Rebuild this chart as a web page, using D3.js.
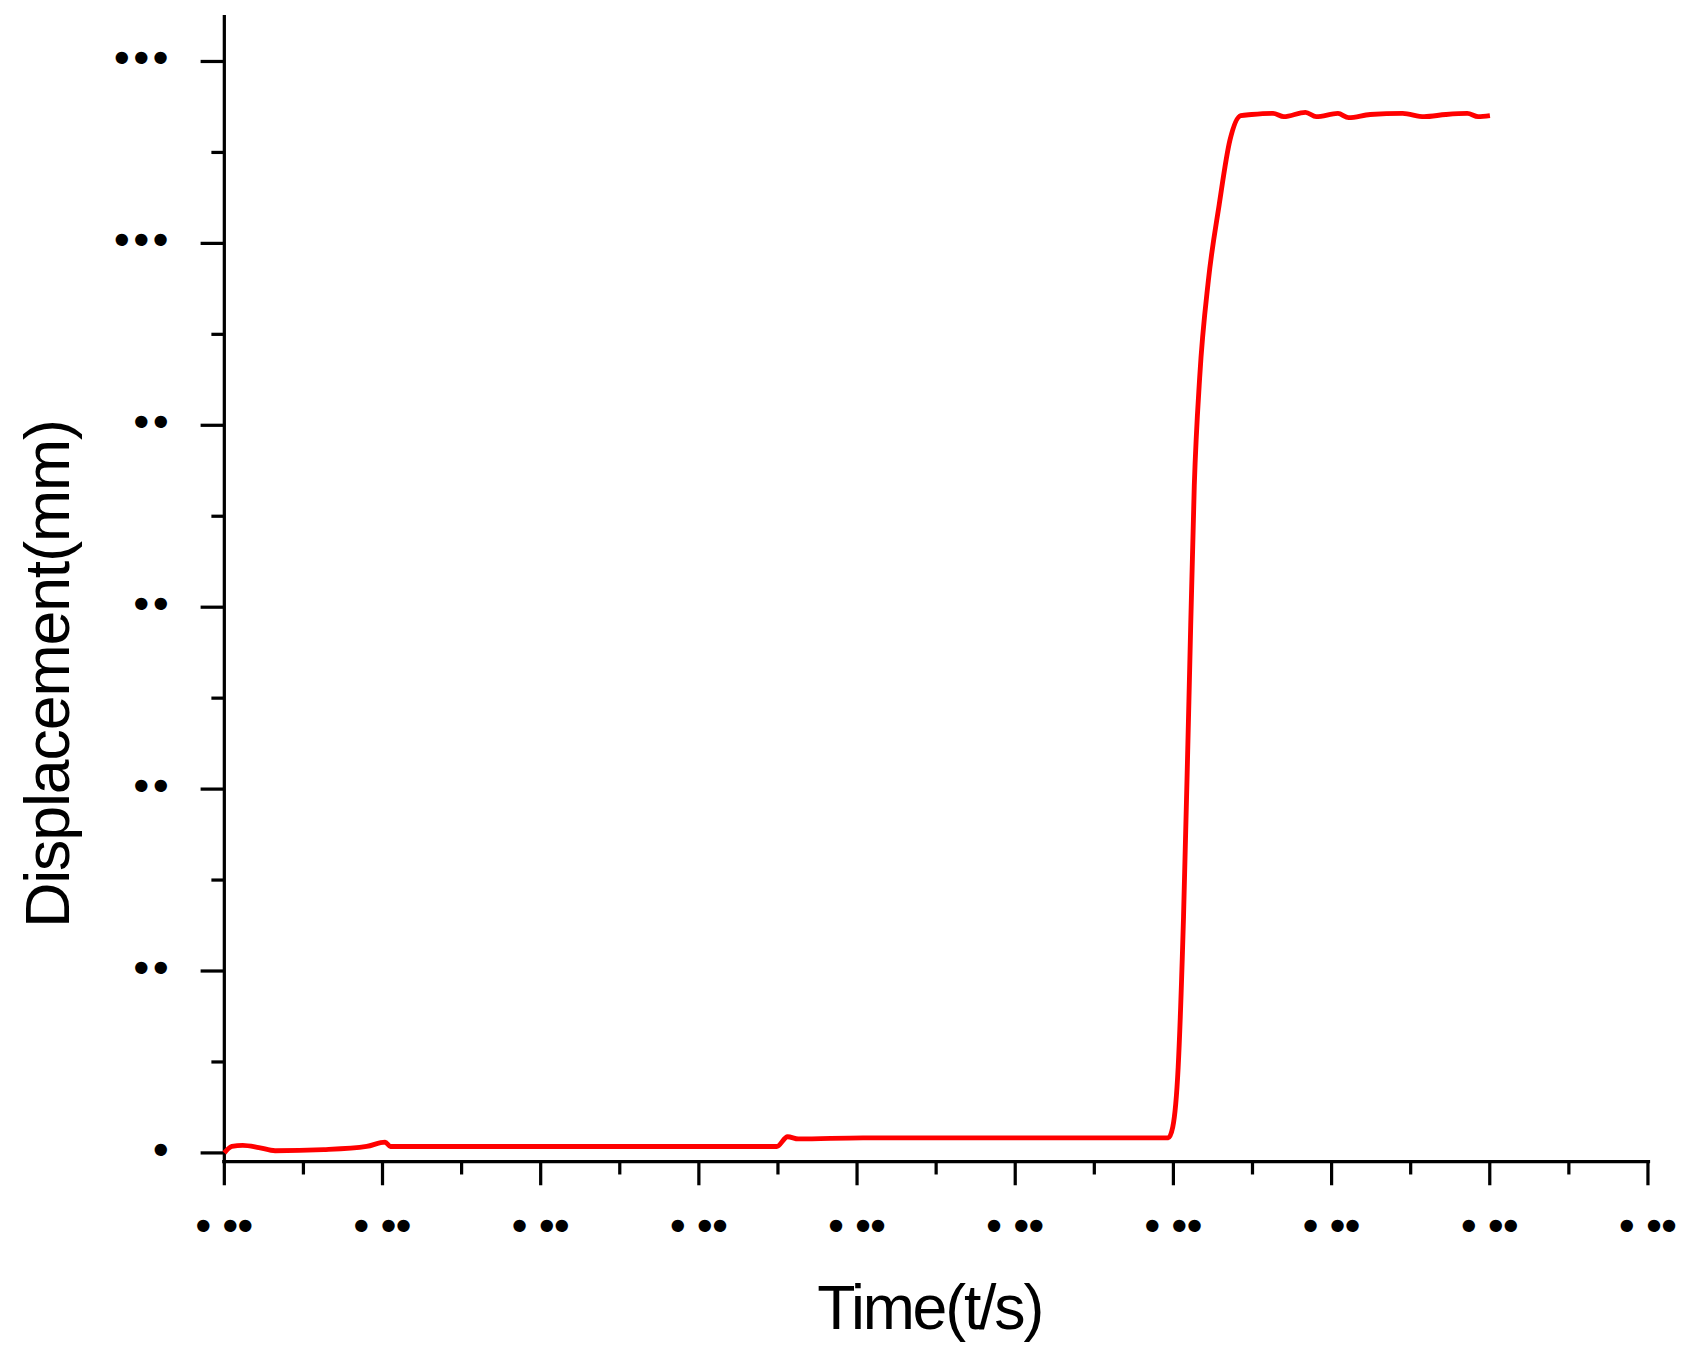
<!DOCTYPE html>
<html><head><meta charset="utf-8">
<script src="https://cdn.jsdelivr.net/npm/d3@7"></script>
<style>body{margin:0;background:#fff}text{font-family:"Liberation Sans",Arial,sans-serif}</style>
</head><body><svg id="c" width="1691" height="1345"></svg>
<script>
// tick labels as they appear in the reference (glyphs drawn as dots)
var xTicks = [0,1,2,3,4,5,6,7,8,9];
var xTickLabels = ["• ••","• ••","• ••","• ••","• ••","• ••","• ••","• ••","• ••","• ••"];
var yTicks = [0,20,40,60,80,100,120];
var yTickLabels = ["•","••","••","••","••","•••","•••"];
var timeVals = [0,0.048,0.116,0.218,0.321,0.628,0.900,1.016,1.050,1.310,3.492,3.561,3.629,4.038,5.968,5.996,6.030,6.064,6.098,6.132,6.166,6.221,6.289,6.357,6.426,6.494,6.630,6.698,6.835,6.903,7.040,7.108,7.244,7.449,7.585,7.722,7.858,7.926,8.001];
var dispVals = [0,0.71,0.83,0.59,0.24,0.36,0.71,1.19,0.71,0.71,0.71,1.78,1.54,1.66,1.66,2.85,9.37,25.96,49.67,73.38,85.24,95.91,104.21,111.32,114.05,114.17,114.29,113.93,114.41,113.93,114.29,113.82,114.17,114.29,113.93,114.17,114.29,113.93,114.05];

var svg = d3.select("#c").append("g").attr("transform","scale(1.0785)");
var x = d3.scaleLinear().domain([0,9]).range([208,1528]);
var y = d3.scaleLinear().domain([0,120]).range([1069,57]);

// axes lines
svg.append("line").attr("x1",208).attr("x2",208).attr("y1",14).attr("y2",1077)
  .attr("stroke","#000").attr("stroke-width",3);
svg.append("line").attr("x1",206).attr("x2",1530).attr("y1",1077).attr("y2",1077)
  .attr("stroke","#000").attr("stroke-width",3);

// y ticks
var yMinor = d3.range(10,130,20);
svg.selectAll(".yt").data(yTicks).enter().append("line")
  .attr("x1",186).attr("x2",208).attr("y1",d=>y(d)).attr("y2",d=>y(d))
  .attr("stroke","#000").attr("stroke-width",3);
svg.selectAll(".ym").data(yMinor).enter().append("line")
  .attr("x1",196).attr("x2",208).attr("y1",d=>y(d)).attr("y2",d=>y(d))
  .attr("stroke","#000").attr("stroke-width",3);
svg.selectAll(".yl").data(yTicks).enter().append("text")
  .attr("x",160).attr("y",d=>y(d)+10).attr("text-anchor","end")
  .attr("font-size",40).attr("font-weight","bold").attr("letter-spacing",4).text((d,i)=>yTickLabels[i]);

// x ticks
var xMinor = d3.range(0.5,9,1);
svg.selectAll(".xt").data(xTicks).enter().append("line")
  .attr("x1",d=>x(d)).attr("x2",d=>x(d)).attr("y1",1077).attr("y2",1099)
  .attr("stroke","#000").attr("stroke-width",3);
svg.selectAll(".xm").data(xMinor).enter().append("line")
  .attr("x1",d=>x(d)).attr("x2",d=>x(d)).attr("y1",1077).attr("y2",1089)
  .attr("stroke","#000").attr("stroke-width",3);
svg.selectAll(".xl").data(xTicks).enter().append("text")
  .attr("x",d=>x(d)).attr("y",1150).attr("text-anchor","middle")
  .attr("font-size",40).attr("font-weight","bold").text((d,i)=>xTickLabels[i]);

// curve
var line = d3.line().x((d,i)=>x(timeVals[i])).y(d=>y(d)).curve(d3.curveMonotoneX);
svg.append("path").datum(dispVals).attr("d",line)
  .attr("fill","none").attr("stroke","#ff0000").attr("stroke-width",4.5);

// titles
svg.append("text").attr("x",862).attr("y",1232).attr("text-anchor","middle")
  .attr("font-size",58).attr("letter-spacing",-2).text("Time(t/s)");
svg.append("text").attr("transform","translate(64,625) rotate(-90)")
  .attr("text-anchor","middle").attr("font-size",58).attr("letter-spacing",-1).text("Displacement(mm)");
</script></body></html>
